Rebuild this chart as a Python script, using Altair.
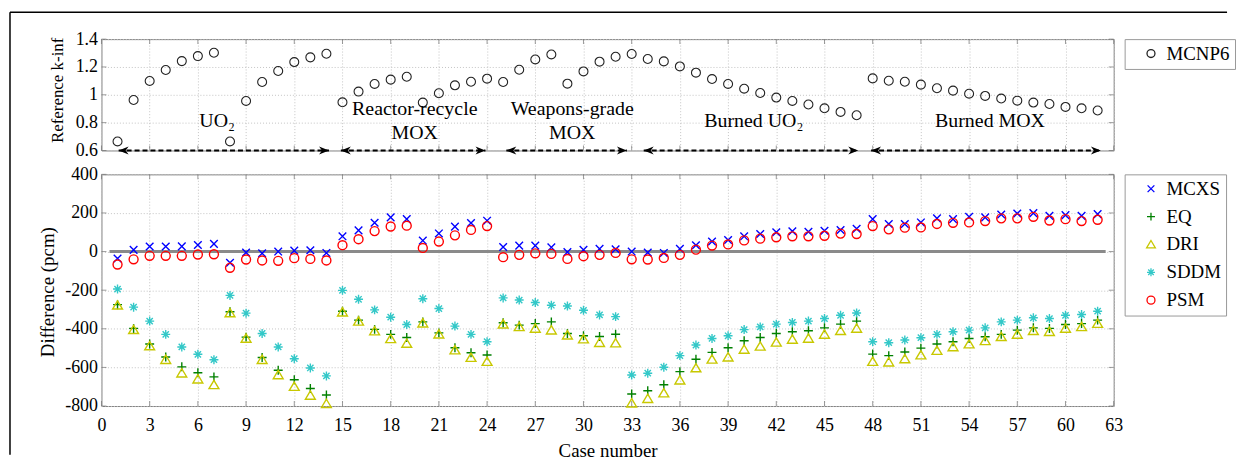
import altair as alt
import pandas as pd

# ---------------- data ----------------
cases = list(range(1, 63))

kinf = [0.665, 0.963, 1.099, 1.178, 1.242, 1.278, 1.302, 0.665, 0.956, 1.092,
        1.171, 1.235, 1.269, 1.295, 0.946, 1.023, 1.078, 1.109, 1.130, 0.944,
        1.011, 1.068, 1.094, 1.116, 1.092, 1.180, 1.254, 1.290, 1.080, 1.168,
        1.238, 1.273, 1.293, 1.257, 1.240, 1.204, 1.159, 1.113, 1.078, 1.044,
        1.013, 0.980, 0.956, 0.930, 0.903, 0.877, 0.853, 1.118, 1.101, 1.094,
        1.073, 1.047, 1.030, 1.008, 0.992, 0.973, 0.958, 0.944, 0.934, 0.913,
        0.903, 0.887]

mcxs = [-36, 9, 26, 26, 27, 34, 40, -58, -5, -9, 0, 5, 7, -7,
        79, 110, 149, 177, 168, 57, 94, 129, 148, 160,
        24, 31, 31, 22, -3, 9, 14, 12,
        0, -5, -7, 14, 33, 52, 60, 79, 91, 100, 105, 103, 108, 112, 118,
        168, 143, 143, 151, 172, 168, 180, 177, 192, 197, 199, 185, 189, 185, 194]

eq = [-275, -398, -479, -546, -597, -628, -649, -312, -443, -549, -615, -664, -709, -743,
      -309, -355, -403, -429, -445, -364, -421, -498, -524, -536,
      -369, -381, -373, -364, -424, -436, -440, -428,
      -738, -721, -690, -622, -558, -522, -498, -462, -445, -424, -415, -410, -395, -376, -360,
      -531, -539, -520, -500, -479, -467, -450, -441, -429, -407, -395, -398, -378, -373, -355]

dri = [-278, -405, -489, -560, -630, -661, -690, -318, -450, -560, -639, -699, -745, -788,
       -314, -361, -412, -452, -476, -371, -428, -510, -549, -570,
       -376, -390, -398, -407, -433, -453, -472, -474,
       -785, -762, -733, -666, -603, -558, -547, -507, -491, -470, -455, -450, -429, -410, -398,
       -570, -573, -556, -536, -513, -494, -479, -462, -441, -429, -410, -415, -398, -390, -373]

sddm = [-194, -288, -360, -429, -494, -532, -560, -227, -319, -424, -494, -555, -603, -644,
        -201, -247, -302, -340, -378, -244, -295, -386, -429, -467,
        -240, -251, -264, -278, -282, -304, -328, -337,
        -639, -630, -599, -539, -484, -450, -436, -404, -390, -376, -367, -360, -347, -330, -318,
        -467, -472, -458, -446, -429, -415, -407, -395, -364, -355, -343, -347, -330, -326, -309]

psm = [-67, -40, -22, -22, -22, -15, -14, -84, -41, -46, -48, -34, -38, -46,
       33, 64, 106, 130, 134, 19, 52, 84, 112, 132,
       -29, -17, -9, -12, -38, -24, -17, -7,
       -40, -41, -33, -17, 10, 31, 37, 58, 67, 74, 79, 79, 82, 93, 91,
       132, 115, 124, 125, 143, 149, 151, 158, 172, 172, 180, 161, 168, 158, 165]

methods = ["MCXS", "EQ", "DRI", "SDDM", "PSM"]
method_values = [mcxs, eq, dri, sddm, psm]
method_colors = ["#0000ff", "#008000", "#c8c800", "#33c8c8", "#ff0000"]
X_PATH = "M-0.85,-0.85L0.85,0.85M-0.85,0.85L0.85,-0.85"
PLUS_PATH = "M-1,0L1,0M0,-1L0,1"
TRI_PATH = "M0,-1L1.1,0.85L-1.1,0.85Z"
AST_PATH = "M-1,0L1,0M0,-1L0,1M-0.7,-0.7L0.7,0.7M-0.7,0.7L0.7,-0.7"
method_shapes = [X_PATH, PLUS_PATH, TRI_PATH, AST_PATH, "circle"]

group_labels = ["UO₂", "Reactor-recycle\nMOX", "Weapons-grade\nMOX", "Burned UO₂", "Burned MOX"]
group_x = [7.2, 19.5, 29.3, 40.6, 55.3]
group_y = [0.815, 0.9, 0.9, 0.815, 0.815]
arrow_start = [1.07, 14.9, 25.2, 33.75, 47.9]
arrow_end = [14.16, 23.9, 32.7, 47.1, 62.2]
arrow_y = [0.6, 0.6, 0.6, 0.6, 0.6]

zero_x = [0.5, 62.5]
zero_y = [0, 0]

x_ticks = list(range(0, 64, 3))
k_ticks = [0.6, 0.8, 1.0, 1.2, 1.4]
d_ticks = list(range(-800, 401, 200))

# ---------------- frames ----------------
FONT = "Liberation Serif"
W = 1018
H_TOP = 112
H_BOT = 233
TICK_COLOR = "#707070"

top_df = pd.DataFrame({"case": cases, "kinf": kinf, "src": "MCNP6"})
arrow_df = pd.DataFrame({"start": arrow_start, "end": arrow_end, "y": arrow_y})
label_df = pd.DataFrame({"gx": group_x, "gy": group_y, "label": group_labels})
one = pd.DataFrame({"a": [0]})
xt_df = pd.DataFrame({"case": x_ticks})
kt_df = pd.DataFrame({"kinf": k_ticks})
dt_df = pd.DataFrame({"diff": d_ticks})

long_rows = []
for m, vals in zip(methods, method_values):
    for c, v in zip(cases, vals):
        long_rows.append({"case": c, "diff": v, "method": m})
bot_df = pd.DataFrame(long_rows)
zero_df = pd.DataFrame({"case": zero_x, "diff": zero_y})

LEFT_HEAD = "M0,0L2,-0.8L1.4,0L2,0.8Z"
RIGHT_HEAD = "M0,0L-2,-0.8L-1.4,0L-2,0.8Z"


def legend():
    return alt.Legend(title=None, labelFont=FONT, labelFontSize=19, labelColor="black",
                      orient="right", offset=11, padding=5, strokeColor="#999999",
                      fillColor="white", symbolSize=64, symbolStrokeWidth=1.3,
                      rowPadding=8, symbolOffset=12, labelOffset=6)


xscale = alt.Scale(domain=[0, 63], nice=False, zero=False)
kscale = alt.Scale(domain=[0.6, 1.4], nice=False, zero=False)
dscale = alt.Scale(domain=[-800, 400], nice=False, zero=False)

x_top_axis = alt.Axis(values=x_ticks, labels=False, title=None, grid=True)
k_axis = alt.Axis(values=k_ticks, labelExpr="'' + datum.value",
                  labelOverlap=False, labelFont=FONT, labelFontSize=18,
                  title="Reference k-inf", titleFont=FONT, titleFontSize=17,
                  titleX=-44, titleY=51, titleBaseline="middle")
x_bot_axis = alt.Axis(values=x_ticks, title="Case number", labelFlush=False,
                      labelOverlap=False, labelPadding=11,
                      labelFont=FONT, labelFontSize=18,
                      titleFont=FONT, titleFontSize=19,
                      titleY=51, titleBaseline="alphabetic")
d_axis = alt.Axis(values=d_ticks, labelExpr="'' + datum.value",
                  labelOverlap=False, labelFont=FONT, labelFontSize=18,
                  title="Difference (pcm)", titleFont=FONT, titleFontSize=19,
                  titleX=-54, titleY=118, titleBaseline="middle")


def x_tick_marks(xaxis, h):
    top_t = alt.Chart(xt_df).mark_tick(orient="vertical", size=5, thickness=1,
                                       color=TICK_COLOR).encode(
        x=alt.X("case:Q", scale=xscale, axis=xaxis), y=alt.value(2.5))
    bot_t = alt.Chart(xt_df).mark_tick(orient="vertical", size=5, thickness=1,
                                       color=TICK_COLOR).encode(
        x=alt.X("case:Q", scale=xscale, axis=xaxis), y=alt.value(h - 2.5))
    return [top_t, bot_t]


def y_tick_marks(field, scale, yaxis):
    src = kt_df if field == "kinf" else dt_df
    l_t = alt.Chart(src).mark_tick(orient="horizontal", size=5, thickness=1,
                                   color=TICK_COLOR).encode(
        y=alt.Y(field + ":Q", scale=scale, axis=yaxis), x=alt.value(2.5))
    r_t = alt.Chart(src).mark_tick(orient="horizontal", size=5, thickness=1,
                                   color=TICK_COLOR).encode(
        y=alt.Y(field + ":Q", scale=scale, axis=yaxis), x=alt.value(W - 2.5))
    return [l_t, r_t]


# ---------------- top panel ----------------
top_points = alt.Chart(top_df).mark_point(shape="circle", filled=False, size=81,
                                          strokeWidth=1.1, opacity=1).encode(
    x=alt.X("case:Q", scale=xscale, axis=x_top_axis),
    y=alt.Y("kinf:Q", scale=kscale, axis=k_axis),
    color=alt.Color("src:N", scale=alt.Scale(domain=["MCNP6"], range=["#222222"]),
                    legend=legend()),
)

ax = alt.X("start:Q", scale=xscale, axis=x_top_axis)
ay = alt.Y("y:Q", scale=kscale, axis=k_axis)
arrow_lines = alt.Chart(arrow_df).mark_rule(color="black", strokeWidth=2,
                                            strokeDash=[5, 3]).encode(
    x=ax, x2="end:Q", y=ay)
left_heads = alt.Chart(arrow_df).mark_point(shape=LEFT_HEAD, filled=True, size=100,
                                            color="black", opacity=1).encode(
    x=ax, y=ay)
right_heads = alt.Chart(arrow_df).mark_point(shape=RIGHT_HEAD, filled=True, size=100,
                                             color="black", opacity=1).encode(
    x=alt.X("end:Q", scale=xscale, axis=x_top_axis), y=ay)
group_text = alt.Chart(label_df).mark_text(font=FONT, fontSize=20, lineBreak="\n",
                                           lineHeight=24, baseline="middle",
                                           align="center", color="black").encode(
    x=alt.X("gx:Q", scale=xscale, axis=x_top_axis),
    y=alt.Y("gy:Q", scale=kscale, axis=k_axis), text="label:N")

frame_top = alt.Chart(one).mark_rule(color="black", strokeWidth=1.5).encode(
    x=alt.value(-92), x2=alt.value(1132), y=alt.value(-27))
frame_left = alt.Chart(one).mark_rule(color="black", strokeWidth=1.5).encode(
    x=alt.value(-92), y=alt.value(-27), y2=alt.value(418))

top = alt.layer(top_points,
                *x_tick_marks(x_top_axis, H_TOP),
                *y_tick_marks("kinf", kscale, k_axis),
                arrow_lines, left_heads, right_heads, group_text,
                frame_top, frame_left).properties(width=W, height=H_TOP)

# ---------------- bottom panel ----------------
bot_points = alt.Chart(bot_df).mark_point(filled=False, size=81, strokeWidth=1.4,
                                          opacity=1).encode(
    x=alt.X("case:Q", scale=xscale, axis=x_bot_axis),
    y=alt.Y("diff:Q", scale=dscale, axis=d_axis),
    color=alt.Color("method:N", scale=alt.Scale(domain=methods, range=method_colors),
                    legend=legend()),
    shape=alt.Shape("method:N", scale=alt.Scale(domain=methods, range=method_shapes),
                    legend=legend()),
)

zero_line = alt.Chart(zero_df).mark_line(color="#8a8a8a", strokeWidth=3).encode(
    x=alt.X("case:Q", scale=xscale, axis=x_bot_axis),
    y=alt.Y("diff:Q", scale=dscale, axis=d_axis))

bottom = alt.layer(zero_line,
                   *x_tick_marks(x_bot_axis, H_BOT),
                   *y_tick_marks("diff", dscale, d_axis),
                   bot_points).properties(width=W, height=H_BOT)

chart = alt.vconcat(top, bottom, spacing=24, bounds="flush").resolve_scale(
    color="independent", shape="independent"
).resolve_legend(color="independent", shape="independent").properties(
    padding={"left": 0, "top": 1, "right": 0, "bottom": 0}
).configure_view(
    stroke="#808080", strokeWidth=1
).configure_axis(
    labelFont=FONT, titleFont=FONT, labelFontSize=18, titleFontSize=19,
    labelColor="black", titleColor="black", titleFontWeight="normal",
    gridColor="#c4c4c4", gridDash=[1, 2], gridWidth=1,
    ticks=False, domain=False, labelPadding=4, labelOverlap=False
)

chart.save("out.html", embed_options={"renderer": "svg", "actions": False})
